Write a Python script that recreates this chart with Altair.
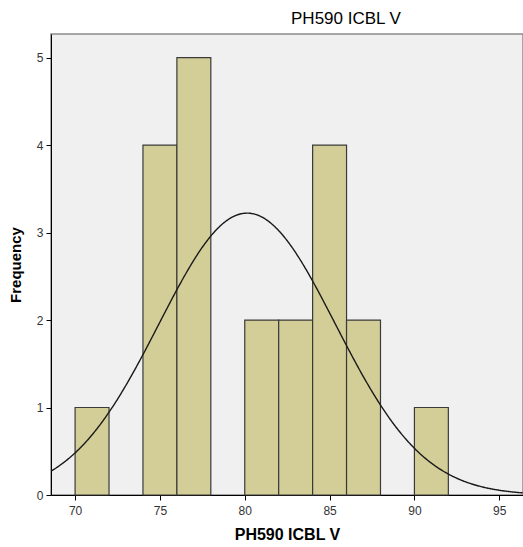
import altair as alt
import pandas as pd

bin_start = [70, 74, 76, 80, 82, 84, 86, 90]
bin_end = [72, 76, 78, 82, 84, 86, 88, 92]
counts = [1, 4, 5, 2, 2, 4, 2, 1]

fit_mean = 80.14
fit_sd = 5.2
n_total = 21
bin_width = 2

bars_df = pd.DataFrame({"start": bin_start, "end": bin_end, "count": counts})

FONT = "Liberation Sans"
xdom = [68.58, 96.4]
ydom = [0, 5.27]

xscale = alt.Scale(domain=xdom, nice=False, zero=False)
yscale = alt.Scale(domain=ydom, nice=False)

bars = alt.Chart(bars_df).mark_rect(
    fill="#D3CE98", stroke="#3a3a3a", strokeWidth=1.2
).encode(
    x=alt.X("start:Q", scale=xscale,
            axis=alt.Axis(values=[70, 75, 80, 85, 90, 95], title="PH590 ICBL V", format="d",
                          grid=False, domainColor="black", tickColor="black",
                          tickSize=5, labelFontSize=12, labelColor="#333",
                          labelFont=FONT, titleFont=FONT, titleFontSize=16,
                          titleFontWeight="bold", titleColor="black",
                          labelPadding=5, titlePadding=10)),
    x2="end:Q",
    y=alt.Y("count:Q", scale=yscale,
            axis=alt.Axis(values=[0, 1, 2, 3, 4, 5], title="Frequency", format="d",
                          grid=False, domainColor="black", tickColor="black",
                          tickSize=5, labelFontSize=12, labelColor="#333",
                          labelFont=FONT, titleFont=FONT, titleFontSize=15,
                          titleFontWeight="bold", titleColor="black",
                          labelPadding=3, titlePadding=13)),
    y2=alt.datum(0),
)

curve = alt.Chart(alt.sequence(start=xdom[0], stop=xdom[1] + 0.01, step=0.05, as_="x")).transform_calculate(
    y=f"{n_total * bin_width} / ({fit_sd} * sqrt(2*PI)) * exp(-pow(datum.x - {fit_mean}, 2) / (2 * {fit_sd} * {fit_sd}))"
).mark_line(color="#1a1a1a", strokeWidth=1.4, clip=True).encode(
    x=alt.X("x:Q", scale=xscale),
    y=alt.Y("y:Q", scale=yscale),
)

chart = alt.layer(bars, curve).properties(
    width=472, height=461,
    title=alt.TitleParams("PH590 ICBL V", font=FONT, fontSize=17, fontWeight="normal",
                          color="black", anchor="middle", dx=59, offset=6),
    autosize=alt.AutoSizeParams(type="none"),
    padding={"left": 51, "top": 34, "right": 0, "bottom": 52},
).configure(background="white").configure_view(
    fill="#F0F0F0", stroke="#8a8a8a", strokeWidth=1.5
)

chart.save("out.html", embed_options={"renderer": "svg", "actions": False})
